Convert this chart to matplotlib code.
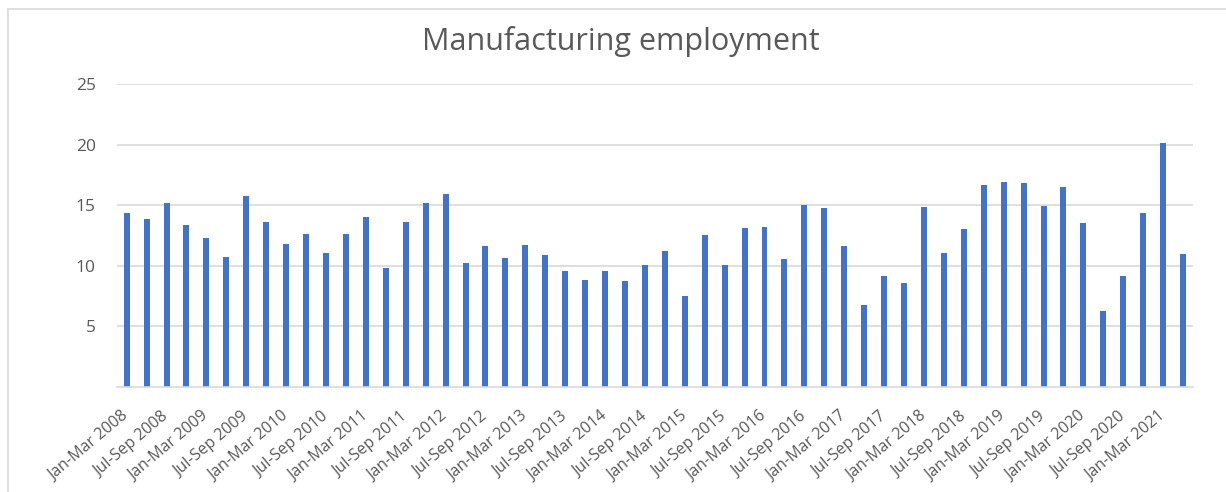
import matplotlib
matplotlib.use("Agg")
import matplotlib.pyplot as plt
from matplotlib.lines import Line2D

# quarterly values, Jan-Mar 2008 .. Apr-Jun 2021
quarters = ["Jan-Mar", "Apr-Jun", "Jul-Sep", "Oct-Dec"]
years = list(range(2008, 2022))
categories = [f"{q} {y}" for y in years for q in quarters][:54]

values = [
    14.32, 13.86, 15.18, 13.36, 12.26, 10.72, 15.76, 13.61,
    11.82, 12.59, 11.02, 12.59, 13.99, 9.78, 13.61, 15.15,
    15.92, 10.25, 11.65, 10.61, 11.74, 10.85, 9.53, 8.79,
    9.53, 8.73, 10.06, 11.18, 7.47, 12.53, 10.03, 13.14,
    13.20, 10.55, 15.01, 14.77, 11.60, 6.72, 9.12, 8.57,
    14.82, 11.07, 13.00, 16.64, 16.94, 16.80, 14.90, 16.53,
    13.55, 6.23, 9.15, 14.35, 20.14, 10.96,
]
y_ticks = [5, 10, 15, 20, 25]

BLUE = "#4472C4"
GRID = "#d9d9d9"
TEXT = "#595959"
FONT = "Open Sans"

fig = plt.figure(figsize=(12.26, 4.92), dpi=100)
ax = fig.add_axes([0.0952, 0.2140, 0.8779, 0.6153])

x = list(range(len(values)))
ax.bar(x, values, width=0.3, color=BLUE, zorder=3)

ax.set_xlim(-0.5, len(values) - 0.5)
ax.set_ylim(0, 25)
ax.set_yticks(y_ticks)
ax.set_yticklabels([str(t) for t in y_ticks], fontsize=12.5, color=TEXT, family=FONT)
ax.yaxis.grid(True, color=GRID, linewidth=1.2, zorder=0)
ax.tick_params(axis="y", length=0, pad=15)

ax.set_xticks(x[::2])
ax.set_xticklabels(categories[::2], rotation=40, ha="right", va="center",
                   rotation_mode="anchor", fontsize=11.5, color=TEXT, family=FONT)
ax.tick_params(axis="x", length=0, pad=20)

for s in ("top", "right", "left"):
    ax.spines[s].set_visible(False)
ax.spines["bottom"].set_color(GRID)
ax.spines["bottom"].set_linewidth(1.2)
ax.spines["bottom"].set_zorder(4)

fig.text(0.506, 0.915, "Manufacturing employment", ha="center", va="center",
         fontsize=22, color=TEXT, family=FONT)

# chart area border (top and left edges visible)
fig.add_artist(Line2D([8 / 1226, 1], [1 - 9 / 492, 1 - 9 / 492], color=GRID,
                      linewidth=1.2, transform=fig.transFigure))
fig.add_artist(Line2D([8 / 1226, 8 / 1226], [0, 1 - 9 / 492], color=GRID,
                      linewidth=1.2, transform=fig.transFigure))

fig.savefig("out.png", dpi=100)
